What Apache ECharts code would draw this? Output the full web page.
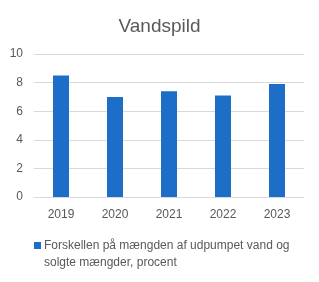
<!DOCTYPE html>
<html>
<head>
<meta charset="utf-8">
<script src="https://cdn.jsdelivr.net/npm/echarts@6/dist/echarts.min.js"></script>
<style>html,body{margin:0;padding:0;background:#fff}#c{width:319px;height:282px}</style>
</head>
<body>
<div id="c"></div>
<script>
const categories = ['2019', '2020', '2021', '2022', '2023'];
const values = [8.5, 7.0, 7.4, 7.1, 7.9];
const seriesName = 'Forskellen på mængden af udpumpet vand og solgte mængder, procent';
const legendLines = ['Forskellen på mængden af udpumpet vand og', 'solgte mængder, procent'];
const titleText = 'Vandspild';

const chart = echarts.init(document.getElementById('c'), null, {renderer: 'canvas'});
const txt = '#595959';
const font = '"Liberation Sans", Arial, sans-serif';
chart.setOption({
  animation: false,
  title: {
    text: titleText, left: 'center', top: 12,
    textStyle: {fontFamily: font, fontSize: 19, fontWeight: 'normal', color: txt}
  },
  grid: {left: 34, right: 15, top: 54, height: 143, containLabel: false},
  xAxis: {
    type: 'category', data: categories,
    axisLine: {show: true, lineStyle: {color: '#d9d9d9'}},
    axisTick: {show: false},
    axisLabel: {color: txt, fontFamily: font, fontSize: 12, margin: 12}
  },
  yAxis: {
    type: 'value', min: 0, max: 10, interval: 2,
    axisLine: {show: false}, axisTick: {show: false},
    splitLine: {lineStyle: {color: '#d9d9d9'}},
    axisLabel: {color: txt, fontFamily: font, fontSize: 12, margin: 11}
  },
  legend: {
    left: 29, top: 232, itemWidth: 7, itemHeight: 24, itemGap: 0,
    icon: 'path://M0,0L7,0L7,7L0,7Z M7,24',
    formatter: function () { return legendLines.join('\n'); },
    textStyle: {color: txt, fontFamily: font, fontSize: 12, lineHeight: 17, padding: [0, 0, 0, -2]}
  },
  series: [{
    name: seriesName, type: 'bar', data: values, barWidth: 16,
    itemStyle: {color: '#1c6ec6'}
  }]
});
</script>
</body>
</html>
